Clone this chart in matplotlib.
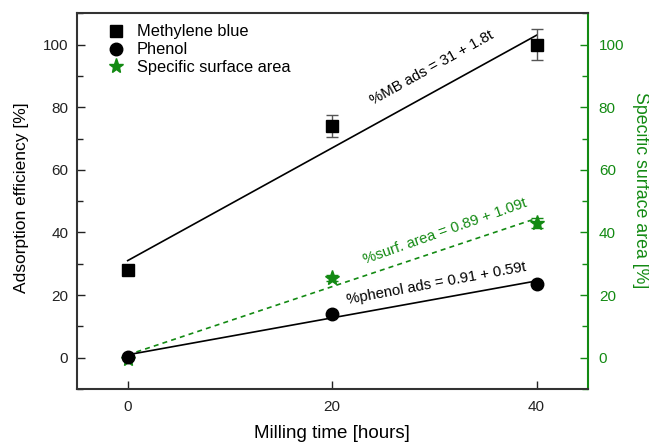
import matplotlib
matplotlib.use("Agg")
import matplotlib.pyplot as plt
import numpy as np
from matplotlib.ticker import MultipleLocator
from matplotlib.lines import Line2D

plt.rcParams['font.family'] = ['Liberation Sans', 'DejaVu Sans']

# Data
time_h = [0, 20, 40]
mb_ads = [28, 74, 100]
mb_err = [0, 3.5, 5]
phenol_ads = [0.3, 14, 23.5]
surf_area = [-0.5, 25.5, 43]
surf_err = [0, 1.0, 1.5]

# Linear fits (intercept, slope)
mb_fit = (31, 1.8)
phenol_fit = (0.91, 0.59)
surf_fit = (0.89, 1.09)

green = '#138a13'

fig = plt.figure(figsize=(6.49, 4.44), dpi=100)
ax = fig.add_axes([0.118, 0.124, 0.7875, 0.846])
ax2 = ax.twinx()

t = np.array([0, 40])
ax.plot(t, mb_fit[0] + mb_fit[1] * t, color='black', lw=1.2)
ax.plot(t, phenol_fit[0] + phenol_fit[1] * t, color='black', lw=1.2)
ax2.plot(t, surf_fit[0] + surf_fit[1] * t, color=green, lw=1.2, ls=(0, (3, 2.5)))

ax.errorbar(time_h, mb_ads, yerr=mb_err, fmt='s', color='black', ms=8,
            ecolor='#555555', elinewidth=1, capsize=4)
ax.plot(time_h, phenol_ads, 'o', color='black', ms=9)
ax2.errorbar(time_h, surf_area, yerr=surf_err, fmt='*', color=green, ms=11,
             ecolor=green, elinewidth=1, capsize=4)

ax.set_xlim(-5, 45)
ax.set_ylim(-10, 110)
ax2.set_ylim(-10, 110)

ax.xaxis.set_major_locator(MultipleLocator(20))
ax.yaxis.set_major_locator(MultipleLocator(20))
ax.yaxis.set_minor_locator(MultipleLocator(10))
ax2.yaxis.set_major_locator(MultipleLocator(20))
ax2.yaxis.set_minor_locator(MultipleLocator(10))
ax.set_yticks(range(0, 101, 20))
ax2.set_yticks(range(0, 101, 20))

ax.tick_params(axis='both', which='both', direction='in', labelsize=11, top=False, right=False, colors='#222222')
ax.tick_params(axis='both', which='major', length=6, width=1)
ax.tick_params(axis='x', which='major', pad=8)
ax.tick_params(axis='y', which='major', pad=6)
ax.tick_params(axis='y', which='minor', length=4, width=1)
ax2.tick_params(axis='y', which='both', direction='in', labelsize=11, colors=green)
ax2.tick_params(axis='y', which='major', length=6, width=1, pad=8)
ax2.tick_params(axis='y', which='minor', length=4, width=1)

for s in ['left', 'bottom', 'top']:
    ax2.spines[s].set_visible(False)
for s in ['left', 'bottom', 'top']:
    ax.spines[s].set_color('#333333')
    ax.spines[s].set_linewidth(1.5)
ax.spines['right'].set_visible(False)
ax2.spines['right'].set_color(green)
ax2.spines['right'].set_linewidth(1.5)

ax.set_xlabel('Milling time [hours]', fontsize=13.5, labelpad=8)
ax.set_ylabel('Adsorption efficiency [%]', fontsize=12.5)
ax2.set_ylabel('Specific surface area [%]', fontsize=12.8, color=green, rotation=270)
for lab in (ax.yaxis.label, ax2.yaxis.label):
    lab.set_va('center')
    lab.set_ha('center')
    lab.set_rotation_mode('anchor')
ax.yaxis.set_label_coords(-0.107, 0.51)
ax2.yaxis.set_label_coords(1.1025, 0.53)

ax.text(29.8, 92.7, '%MB ads = 31 + 1.8t', rotation=29, ha='center', va='center', fontsize=10.7)
ax2.text(31, 40.4, '%surf. area = 0.89 + 1.09t', rotation=19.5, ha='center', va='center', fontsize=10.7, color=green)
ax.text(30.2, 23.8, '%phenol ads = 0.91 + 0.59t', rotation=10.5, ha='center', va='center', fontsize=10.7)

handles = [
    Line2D([], [], ls='none', marker='s', color='black', ms=8),
    Line2D([], [], ls='none', marker='o', color='black', ms=9),
    Line2D([], [], ls='none', marker='*', color=green, ms=11),
]
labels = ['Methylene blue', 'Phenol', 'Specific surface area']
ax.legend(handles, labels, loc='upper left', frameon=False, fontsize=11.8,
          bbox_to_anchor=(0.025, 1.01), handletextpad=0.5, labelspacing=0.18,
          handlelength=1.5)
ax.set_zorder(ax2.get_zorder() + 1)
ax.patch.set_visible(False)

fig.savefig('out.png', dpi=100)
